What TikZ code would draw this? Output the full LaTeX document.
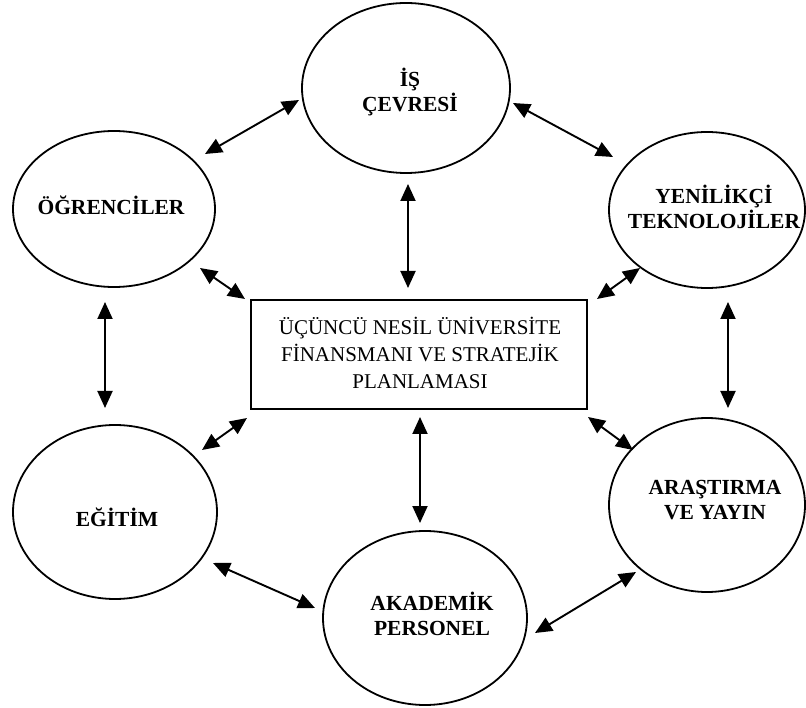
\documentclass[tikz,border=0pt]{standalone}
\usepackage{fontspec}
\setmainfont{Liberation Serif}
\usetikzlibrary{shapes.geometric,arrows.meta}
\tikzset{
  circ/.style={draw, ellipse, line width=1.8pt, inner sep=0pt},
  lbl/.style={font=\fontsize{21.5}{25}\selectfont\bfseries, align=center, inner sep=0pt},
  mainbox/.style={draw, line width=2.2pt, inner sep=0pt},
  boxtext/.style={font=\fontsize{21}{27}\selectfont, align=center, inner sep=0pt},
  biarrow/.style={line width=1.9pt, {Triangle[length=17pt,width=15pt]}-{Triangle[length=17pt,width=15pt]}}
}
\begin{document}
\begin{tikzpicture}[x=1pt,y=-1pt]
\useasboundingbox (0,0) rectangle (806,708);
% ellipses
\node[circ, minimum width=208pt, minimum height=170pt] (is) at (406,88) {};
\node[circ, minimum width=202pt, minimum height=156pt] (og) at (114,209) {};
\node[circ, minimum width=196pt, minimum height=156pt] (yt) at (707,210) {};
\node[circ, minimum width=204pt, minimum height=174pt] (eg) at (115,512) {};
\node[circ, minimum width=196pt, minimum height=174pt] (ay) at (707,505) {};
\node[circ, minimum width=204pt, minimum height=174pt] (ap) at (425,618) {};
% labels
\node[lbl] (istext) at (410,92) {İŞ\\ÇEVRESİ};
\node[lbl] (ogtext) at (111,205) {ÖĞRENCİLER};
\node[lbl] (yttext) at (714,207) {YENİLİKÇİ\\TEKNOLOJİLER};
\node[lbl] (egtext) at (117,517) {EĞİTİM};
\node[lbl] (aytext) at (715,500) {ARAŞTIRMA\\VE YAYIN};
\node[lbl] (aptext) at (432,614) {AKADEMİK\\PERSONEL};
% central box
\node[mainbox, minimum width=336pt, minimum height=109pt] (box) at (419,354.5) {};
\node[boxtext] (boxtext) at (420,353) {ÜÇÜNCÜ NESİL ÜNİVERSİTE\\FİNANSMANI VE STRATEJİK\\PLANLAMASI};
% arrow end points
\coordinate (a1s) at (205,154); \coordinate (a1e) at (299,100);
\coordinate (a2s) at (513,103); \coordinate (a2e) at (613,157);
\coordinate (a3s) at (408,184); \coordinate (a3e) at (408,288);
\coordinate (a4s) at (200,268); \coordinate (a4e) at (245,299);
\coordinate (a5s) at (640,268); \coordinate (a5e) at (597,299);
\coordinate (a6s) at (105,302); \coordinate (a6e) at (105,408);
\coordinate (a7s) at (728,302); \coordinate (a7e) at (728,408);
\coordinate (a8s) at (247,418); \coordinate (a8e) at (202,450);
\coordinate (a9s) at (588,417); \coordinate (a9e) at (633,450);
\coordinate (a10s) at (420,417); \coordinate (a10e) at (420,523);
\coordinate (a11s) at (213,563); \coordinate (a11e) at (315,608);
\coordinate (a12s) at (535,633); \coordinate (a12e) at (636,572);
\foreach \i in {1,...,12} {\draw[biarrow] (a\i s) -- (a\i e);}
\end{tikzpicture}
\end{document}
